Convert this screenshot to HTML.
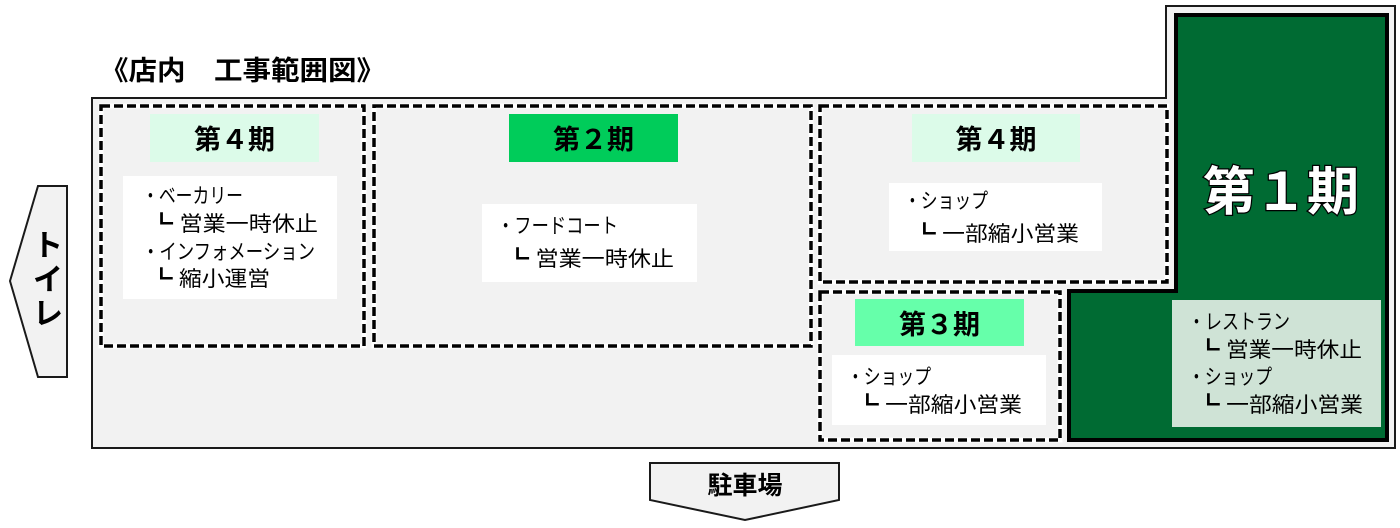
<!DOCTYPE html>
<html><head><meta charset="utf-8"><style>
html,body{margin:0;padding:0;background:#fff;}
svg{display:block;}
text{font-family:"Liberation Sans","Noto Sans CJK JP",sans-serif;}
.b{font-weight:bold;}
.t{font-size:21px;fill:#000;}
</style></head><body>
<svg width="1400" height="528" viewBox="0 0 1400 528" xmlns="http://www.w3.org/2000/svg">
<text x="100" y="80" class="b" font-size="27" fill="#000" textLength="285" lengthAdjust="spacingAndGlyphs">《店内　工事範囲図》</text>
<polygon points="92,98 1166,98 1166,6 1395,6 1395,448 92,448" fill="#f2f2f2" stroke="#1a1a1a" stroke-width="2"/>
<polygon points="1176,15 1387,15 1387,440 1069,440 1069,291 1176,291" fill="#006b33" stroke="#000" stroke-width="4"/>
<text x="1281" y="210" text-anchor="middle" class="b" font-size="52" fill="#fff" stroke="#000" stroke-width="2.5" paint-order="stroke">第１期</text>
<rect x="1172" y="300" width="209" height="127" fill="#cfe3d6"/>
<g class="t">
<text x="1188" y="329" textLength="102" lengthAdjust="spacingAndGlyphs">・レストラン</text>
<text x="1197" y="357" textLength="165" lengthAdjust="spacingAndGlyphs">┗ 営業一時休止</text>
<text x="1188" y="384" textLength="84" lengthAdjust="spacingAndGlyphs">・ショップ</text>
<text x="1197" y="412" textLength="166" lengthAdjust="spacingAndGlyphs">┗ 一部縮小営業</text>
</g>
<g fill="none">
<g stroke="#fff" stroke-width="5">
<rect x="101" y="106" width="263" height="240"/>
<rect x="374" y="106" width="437" height="240"/>
<rect x="820" y="106" width="347" height="176"/>
<rect x="820" y="292" width="240" height="148"/>
</g>
<g stroke="#000" stroke-width="3.5" stroke-dasharray="9,4">
<rect x="101" y="106" width="263" height="240"/>
<rect x="374" y="106" width="437" height="240"/>
<rect x="820" y="106" width="347" height="176"/>
<rect x="820" y="292" width="240" height="148"/>
</g>
</g>
<rect x="150" y="114" width="169" height="48" fill="#dcfbe9"/>
<text x="234.5" y="149" text-anchor="middle" class="b" font-size="27">第４期</text>
<rect x="509" y="114" width="169" height="48" fill="#00cc5a"/>
<text x="593.5" y="149" text-anchor="middle" class="b" font-size="27">第２期</text>
<rect x="912" y="114" width="168" height="48" fill="#dcfbe9"/>
<text x="996" y="149" text-anchor="middle" class="b" font-size="27">第４期</text>
<rect x="855" y="299" width="169" height="47" fill="#66ffaa"/>
<text x="939.5" y="334" text-anchor="middle" class="b" font-size="27">第３期</text>
<rect x="123" y="176" width="214" height="123" fill="#fff"/>
<rect x="482" y="204" width="215" height="78" fill="#fff"/>
<rect x="889" y="183" width="213" height="68" fill="#fff"/>
<rect x="832" y="355" width="214" height="70" fill="#fff"/>
<g class="t">
<text x="142" y="203" textLength="101" lengthAdjust="spacingAndGlyphs">・ベーカリー</text>
<text x="150" y="231" textLength="168" lengthAdjust="spacingAndGlyphs">┗ 営業一時休止</text>
<text x="142" y="259" textLength="173" lengthAdjust="spacingAndGlyphs">・インフォメーション</text>
<text x="150" y="286" textLength="120" lengthAdjust="spacingAndGlyphs">┗ 縮小運営</text>
<text x="497" y="233" textLength="121" lengthAdjust="spacingAndGlyphs">・フードコート</text>
<text x="506" y="266" textLength="168" lengthAdjust="spacingAndGlyphs">┗ 営業一時休止</text>
<text x="904" y="208" textLength="84" lengthAdjust="spacingAndGlyphs">・ショップ</text>
<text x="913" y="241" textLength="166" lengthAdjust="spacingAndGlyphs">┗ 一部縮小営業</text>
<text x="847" y="384" textLength="84" lengthAdjust="spacingAndGlyphs">・ショップ</text>
<text x="856" y="412" textLength="166" lengthAdjust="spacingAndGlyphs">┗ 一部縮小営業</text>
</g>
<polygon points="38,186 67,186 67,377 38,377 10,281" fill="#f2f2f2" stroke="#1a1a1a" stroke-width="2"/>
<text x="48" y="256" text-anchor="middle" class="b" font-size="30">ト</text>
<text x="48" y="290" text-anchor="middle" class="b" font-size="30">イ</text>
<text x="48" y="324" text-anchor="middle" class="b" font-size="30">レ</text>
<polygon points="650,463 839,463 839,500 745,520 650,500" fill="#f2f2f2" stroke="#1a1a1a" stroke-width="2"/>
<text x="745" y="494" text-anchor="middle" class="b" font-size="25">駐車場</text>
</svg>
</body></html>
